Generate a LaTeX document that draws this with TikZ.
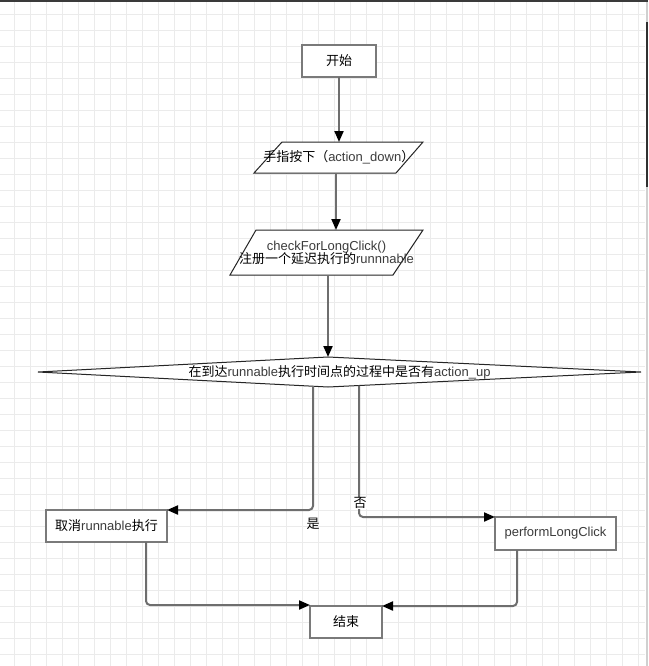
\documentclass[tikz,border=0pt]{standalone}
\usepackage{fontspec}
\setmainfont{Liberation Sans}
\newfontfamily\cjk{Noto Sans CJK SC}
\usetikzlibrary{arrows.meta,calc}
\definecolor{gridc}{HTML}{EBEBEB}
\definecolor{boxc}{HTML}{7A7A7A}
\definecolor{linec}{HTML}{6E6E6E}
\definecolor{latc}{HTML}{3C3C3C}
\definecolor{topbar}{HTML}{3A3A3A}
\definecolor{scrollbg}{HTML}{D0D0D0}
\definecolor{scrollfg}{HTML}{303030}
\newcommand\zh[1]{{\cjk #1}}
\newcommand\lt[1]{\textcolor{latc}{#1}}
\tikzset{
  gridline/.style={draw=gridc, line width=1pt},
  boxs/.style={draw=boxc, line width=2pt, fill=white, inner sep=0pt, outer sep=0pt, font=\fontsize{13}{15}\selectfont},
  ghost/.style={draw=none, inner sep=0pt, outer sep=0pt, font=\fontsize{13}{15}\selectfont, align=center},
  shapeline/.style={draw=black!85, line width=1pt, fill=white},
  arr/.style={draw=linec, line width=2pt, -{Triangle[length=11pt,width=9pt,color=black]}},
  rarr/.style={arr, rounded corners=4pt},
  lbl/.style={inner sep=0pt, font=\fontsize{13}{15}\selectfont}
}
\begin{document}
\begin{tikzpicture}[x=1pt,y=-1pt]
\useasboundingbox (0,0) rectangle (648,666);
\fill[white] (0,0) rectangle (648,666);
% grid
\foreach \i in {0,...,39} {\draw[gridline] ({14.3+16*\i},0) -- ({14.3+16*\i},666);}
\foreach \j in {0,...,40} {\draw[gridline] (0,{14.3+16*\j}) -- (645,{14.3+16*\j});}
% top bar and scrollbar
\fill[topbar] (0,0) rectangle (648,2.2);
\fill[scrollbg] (645.5,2.2) rectangle (648,666);
\fill[scrollfg] (645.5,22) rectangle (648,187);

% start
\node[boxs, minimum width=74pt, minimum height=32pt] (start) at (339,61) {\zh{开始}};

% parallelogram 1
\path[shapeline] (282,142) -- (423,142) -- (396,173) -- (254,173) -- cycle;
\node[ghost, minimum width=142pt, minimum height=31pt] (p1) at (338.75,157.5) {\zh{手指按下（}\lt{action\_down}\zh{）}};

% parallelogram 2
\path[shapeline] (256,230) -- (423,230) -- (393,275) -- (230,275) -- cycle;
\node[ghost, minimum width=167pt, minimum height=45pt] (p2) at (326.5,252.5) {\lt{checkForLongClick()}\\[-2pt]\zh{注册一个延迟执行的}\lt{runnnable}};

% diamond
\path[shapeline] (38,372) -- (328,357) -- (641,372) -- (328,387) -- cycle;
\node[ghost, minimum width=603pt, minimum height=30pt] (dia) at (339.5,372) {\zh{在到达}\lt{runnable}\zh{执行时间点的过程中是否有}\lt{action\_up}};

% boxes
\node[boxs, minimum width=121pt, minimum height=32pt] (cancel) at (106.5,526) {\zh{取消}\lt{runnable}\zh{执行}};
\node[boxs, minimum width=121pt, minimum height=33pt] (perf) at (555.5,533.5) {\lt{performLongClick}};
\node[boxs, minimum width=72pt, minimum height=32pt] (end) at (346,622) {\zh{结束}};

% connectors
\draw[arr] (start.south) -- (start.south |- p1.north);
\coordinate (a1) at ([xshift=-2.75pt]p1.south);
\draw[arr] (a1) -- (a1 |- p2.north);
\coordinate (a2) at ([xshift=1.5pt]p2.south);
\draw[arr] (a2) -- (a2 |- dia.north);
\coordinate (yes0) at (313,386.2);
\draw[rarr] (yes0) |- (cancel.north east);
\coordinate (no0) at (359,385.5);
\draw[rarr] (no0) |- (perf.north west);
\coordinate (c1) at ([xshift=39.5pt]cancel.south);
\draw[rarr] (c1) |- ([yshift=1pt]end.north west);
\coordinate (e1) at ([xshift=-38.5pt]perf.south);
\draw[rarr] (e1) |- (end.north east);

% labels
\node[lbl] (yeslbl) at (313,524) {\zh{是}};
\node[lbl, fill=white] (nolbl) at (360,503) {\zh{否}};
\end{tikzpicture}
\end{document}
